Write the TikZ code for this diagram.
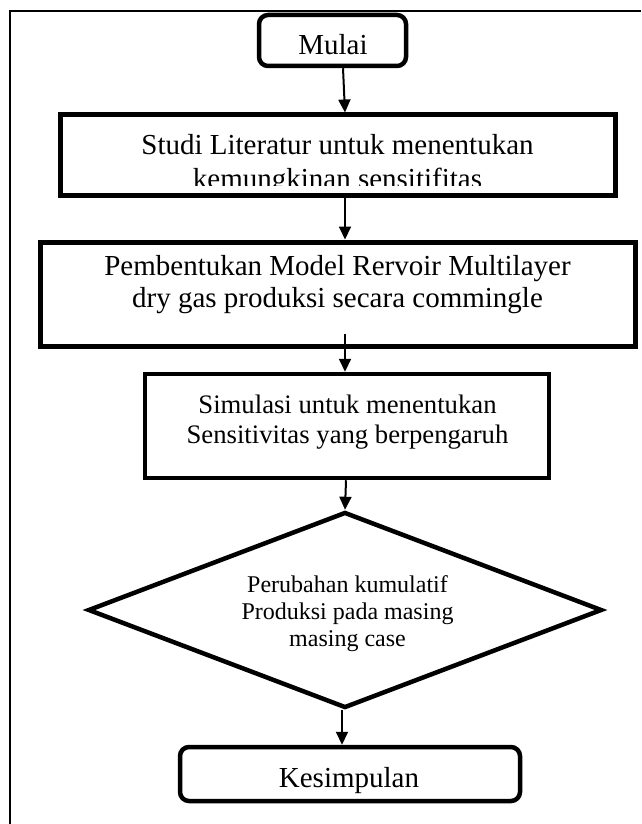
\documentclass[tikz,border=0pt]{standalone}
\usepackage{fontspec}
\setmainfont{Liberation Serif}
\usetikzlibrary{arrows.meta,shapes.geometric}
\begin{document}
\begin{tikzpicture}[x=1pt,y=-1pt,
  procbox/.style={draw, rectangle, line width=5pt, inner sep=0pt},
  termbox/.style={draw, rectangle, rounded corners=9pt, line width=4.5pt, inner sep=0pt},
  lbl/.style={anchor=base, inner sep=0pt, font=\fontsize{29}{33}\selectfont},
  lblmid/.style={anchor=base, inner sep=0pt, font=\fontsize{26.7}{30}\selectfont},
  lblsmall/.style={anchor=base, inner sep=0pt, font=\fontsize{24}{27}\selectfont},
  arr/.style={line width=2pt, -{Triangle[length=13pt,width=12pt]}}]
\useasboundingbox (0,0) rectangle (641,824);
% outer frame
\draw[line width=2.5pt] (10,824) -- (10,11) -- (641,11);
% Mulai
\node[termbox, minimum width=147pt, minimum height=51pt] (mulai) at (332.5,40.5) {};
\node[lbl] (mulaiT) at (333,55) {Mulai};
% Studi
\node[procbox, minimum width=555pt, minimum height=80pt] (studi) at (337.5,155) {};
\node[lbl] (studiA) at (337.5,154) {Studi Literatur untuk menentukan};
\begin{scope}
  \clip (0,0) rectangle (641,185.5);
  \node[lbl] (studiB) at (337.5,188) {kemungkinan sensitifitas};
\end{scope}
% Pembentukan
\node[procbox, minimum width=595pt, minimum height=104pt] (pemb) at (337.5,294) {};
\node[lbl] (pembA) at (337.5,275) {Pembentukan Model Rervoir Multilayer};
\node[lbl] (pembB) at (337.5,307) {dry gas produksi secara commingle};
% Simulasi
\node[procbox, line width=4.5pt, minimum width=404pt, minimum height=104pt] (simul) at (347,426) {};
\node[lblmid] (simA) at (347.5,413) {Simulasi untuk menentukan};
\node[lblmid] (simB) at (347.5,443) {Sensitivitas yang berpengaruh};
% Decision
\node[draw, diamond, line width=4.5pt, minimum width=514pt, minimum height=196pt, inner sep=0pt] (dia) at (345,610) {};
\node[lblsmall] (diaA) at (347.5,592) {Perubahan kumulatif};
\node[lblsmall] (diaB) at (347.5,619) {Produksi pada masing};
\node[lblsmall] (diaC) at (347.5,646) {masing case};
% Kesimpulan
\node[termbox, minimum width=340pt, minimum height=54pt] (kesim) at (350,774) {};
\node[lbl] (kesimT) at (349,787) {Kesimpulan};
% connectors
\draw[arr] ([xshift=10.5pt]mulai.south) -- ([xshift=7.5pt]studi.north);
\draw[arr] ([xshift=7.5pt]studi.south) -- ([xshift=7.5pt]pemb.north);
\draw[arr] ([xshift=7.5pt,yshift=15pt]pemb.south) -- ([xshift=-2pt]simul.north);
\draw[arr] ([xshift=-1pt]simul.south) -- (dia.north);
\draw[arr] ([xshift=-3pt]dia.south) -- ([xshift=-8pt]kesim.north);
\end{tikzpicture}
\end{document}
